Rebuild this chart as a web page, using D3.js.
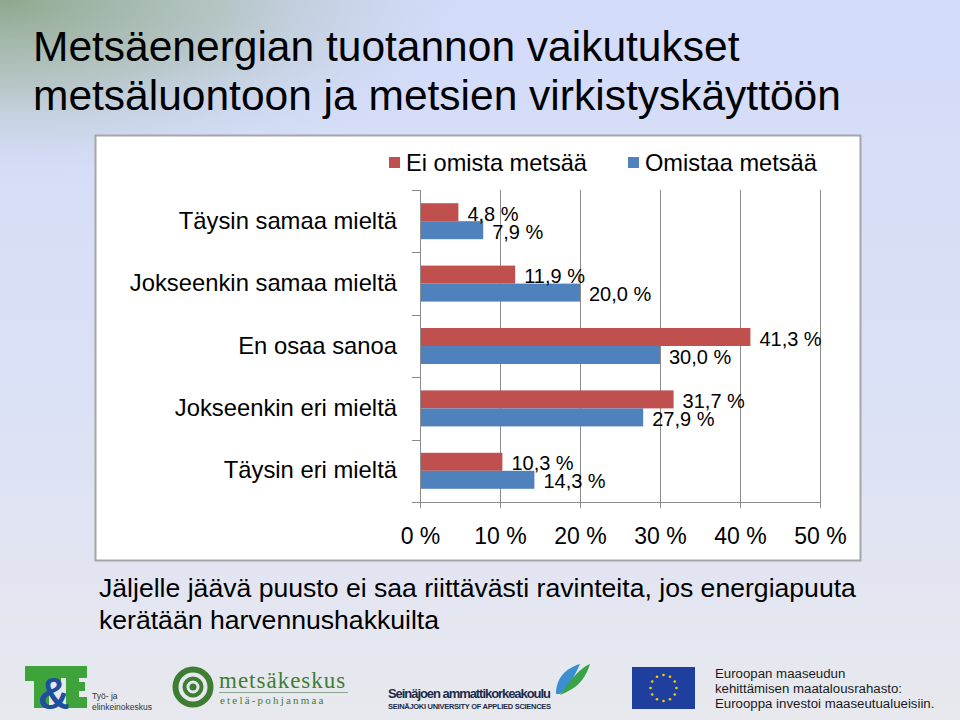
<!DOCTYPE html>
<html><head><meta charset="utf-8">
<script src="https://cdn.jsdelivr.net/npm/d3@7"></script>
<style>html,body{margin:0;padding:0;overflow:hidden;}svg{display:block;font-family:"Liberation Sans",Arial,sans-serif;}</style>
</head><body>
<script>
const categories = ["Täysin samaa mieltä","Jokseenkin samaa mieltä","En osaa sanoa","Jokseenkin eri mieltä","Täysin eri mieltä"];
const seriesNames = ["Ei omista metsää","Omistaa metsää"];
const eiOmista = [4.8, 11.9, 41.3, 31.7, 10.3];
const omistaa = [7.9, 20.0, 30.0, 27.9, 14.3];
const xTicks = [0,10,20,30,40,50];
const titleLines = ["Metsäenergian tuotannon vaikutukset","metsäluontoon ja metsien virkistyskäyttöön"];
const subtitleLines = ["Jäljelle jäävä puusto ei saa riittävästi ravinteita, jos energiapuuta","kerätään harvennushakkuilta"];
const colors = ["#c0504d","#4f81bd"];

const W=960,H=720;
const svg=d3.select("body").append("svg").attr("width",W).attr("height",H);
const defs=svg.append("defs");
const lg=defs.append("linearGradient").attr("id","bg").attr("x1",0).attr("y1",0).attr("x2",0).attr("y2",1);
lg.append("stop").attr("offset","0").attr("stop-color","#d2dbf9");
lg.append("stop").attr("offset","0.55").attr("stop-color","#dbe1f5");
lg.append("stop").attr("offset","1").attr("stop-color","#e8e9ee");
const rg=defs.append("radialGradient").attr("id","gr").attr("gradientUnits","userSpaceOnUse")
  .attr("cx",0).attr("cy",0).attr("r",420).attr("gradientTransform","scale(1.2,0.45)");
rg.append("stop").attr("offset","0").attr("stop-color","#8fa78c").attr("stop-opacity",1);
rg.append("stop").attr("offset","0.45").attr("stop-color","#a9bcb0").attr("stop-opacity",0.7);
rg.append("stop").attr("offset","1").attr("stop-color","#d2dbf9").attr("stop-opacity",0);
svg.append("rect").attr("width",W).attr("height",H).attr("fill","url(#bg)");
svg.append("rect").attr("width",W).attr("height",H).attr("fill","url(#gr)");

// Title
svg.append("g").selectAll("text").data(titleLines).join("text")
  .attr("x",33).attr("y",(d,i)=>61+i*49).attr("font-size",42.5).attr("fill","#000").text(d=>d);

// Chart box
svg.append("rect").attr("x",95.5).attr("y",135.5).attr("width",765).attr("height",425)
  .attr("fill","#fff").attr("stroke","#a6a6a6").attr("stroke-width",2);

const x=d3.scaleLinear().domain([0,50]).range([420,820]);
const y=d3.scaleBand().domain(categories).range([190,502]);
const inner=d3.scaleBand().domain(seriesNames).range([0,36]);
const off=(y.bandwidth()-36)/2;

const g=svg.append("g");
// gridlines
g.selectAll(".grid").data(xTicks.slice(1)).join("line")
  .attr("x1",d=>x(d)).attr("x2",d=>x(d)).attr("y1",190).attr("y2",502)
  .attr("stroke","#8c8c8c").attr("stroke-width",1).attr("shape-rendering","crispEdges");

// bars
const data=categories.map((c,i)=>[{c,s:seriesNames[0],v:eiOmista[i]},{c,s:seriesNames[1],v:omistaa[i]}]).flat();
g.selectAll(".bar").data(data).join("rect")
  .attr("x",x(0)).attr("y",d=>y(d.c)+off+inner(d.s)).attr("width",d=>x(d.v)-x(0)).attr("height",inner.bandwidth())
  .attr("fill",d=>colors[seriesNames.indexOf(d.s)]);
// labels
const fmt=v=>v.toFixed(1).replace(".",",")+" %";
g.selectAll(".lbl").data(data).join("text")
  .attr("x",d=>x(d.v)+9).attr("y",d=>y(d.c)+off+inner(d.s)+inner.bandwidth()/2+1.5)
  .attr("dominant-baseline","central").attr("font-size",20).attr("fill","#000").text(d=>fmt(d.v));

// category axis
const yAxis=d3.axisLeft(y).tickSize(0).tickPadding(23).tickFormat(d=>d);
const ya=svg.append("g").attr("transform","translate(420,0)").call(yAxis);
ya.select(".domain").attr("stroke","#8c8c8c").attr("d","M0.5,190V502");
ya.selectAll("text").attr("font-size",23.8).attr("fill","#000").attr("font-family","Liberation Sans, Arial, sans-serif");
// category tick marks at band boundaries
const bounds=categories.map(c=>y(c)).concat([502]);
svg.append("g").selectAll("line").data(bounds).join("line")
  .attr("x1",412).attr("x2",420).attr("y1",d=>Math.round(d)+0.5).attr("y2",d=>Math.round(d)+0.5)
  .attr("stroke","#8c8c8c");

// value axis
const xAxis=d3.axisBottom(x).tickValues(xTicks).tickSize(6).tickPadding(20).tickFormat(d=>d+" %");
const xa=svg.append("g").attr("transform","translate(0,502)").call(xAxis);
xa.select(".domain").attr("stroke","#8c8c8c").attr("d","M412,0.5H820");
xa.selectAll(".tick line").attr("stroke","#8c8c8c");
xa.selectAll("text").attr("font-size",23).attr("fill","#000").attr("font-family","Liberation Sans, Arial, sans-serif");

// legend
const legX=[389,628];
const leg=svg.append("g").selectAll("g").data(seriesNames).join("g").attr("transform",(d,i)=>`translate(${legX[i]},157)`);
leg.append("rect").attr("width",11).attr("height",11).attr("fill",(d,i)=>colors[i]);
leg.append("text").attr("x",17).attr("y",6).attr("dominant-baseline","central").attr("font-size",23.6).attr("fill","#000").text(d=>d);

// subtitle
svg.append("g").selectAll("text").data(subtitleLines).join("text")
  .attr("x",99).attr("y",(d,i)=>597+i*32).attr("font-size",26.6).attr("fill","#000").text(d=>d);

// ---- logos ----
const lo=svg.append("g");
// T&E
const teG="#3ea33a";
lo.append("rect").attr("x",25).attr("y",666).attr("width",36).attr("height",15).attr("fill",teG);
lo.append("rect").attr("x",34).attr("y",666).attr("width",15).attr("height",42).attr("fill",teG);
lo.append("rect").attr("x",60).attr("y",666).attr("width",27).attr("height",12).attr("fill",teG);
lo.append("rect").attr("x",66).attr("y",666).attr("width",13).attr("height",42).attr("fill",teG);
lo.append("rect").attr("x",66).attr("y",682).attr("width",19).attr("height",9).attr("fill",teG);
lo.append("rect").attr("x",66).attr("y",697).attr("width",21).attr("height",11).attr("fill",teG);
lo.append("text").attr("x",38).attr("y",709).attr("font-size",44).attr("font-weight","bold").attr("fill","#1f4e9c").text("&");
lo.append("text").attr("x",92).attr("y",699).attr("font-size",8.5).attr("fill","#333").text("Työ- ja");
lo.append("text").attr("x",92).attr("y",710).attr("font-size",8.5).attr("fill","#333").text("elinkeinokeskus");
// metsäkeskus
const mg="#3f7d32";
lo.append("circle").attr("cx",193).attr("cy",687).attr("r",17.5).attr("fill","none").attr("stroke",mg).attr("stroke-width",6);
lo.append("circle").attr("cx",193).attr("cy",687).attr("r",8.5).attr("fill","none").attr("stroke",mg).attr("stroke-width",4);
lo.append("circle").attr("cx",193).attr("cy",687).attr("r",3.5).attr("fill",mg);
lo.append("text").attr("x",219).attr("y",688).attr("font-size",23).attr("font-family","Liberation Serif, serif").attr("letter-spacing",1).attr("fill",mg).text("metsäkeskus");
lo.append("line").attr("x1",219).attr("x2",348).attr("y1",692.5).attr("y2",692.5).attr("stroke","#8aa58a");
lo.append("text").attr("x",220).attr("y",704).attr("font-size",11).attr("font-family","Liberation Serif, serif").attr("letter-spacing",2.2).attr("fill",mg).text("etelä-pohjanmaa");
// SeAMK
lo.append("text").attr("x",388).attr("y",698).attr("font-size",13).attr("font-weight","bold").attr("fill","#1c2b4a").attr("textLength",163).text("Seinäjoen ammattikorkeakoulu");
lo.append("text").attr("x",388).attr("y",709).attr("font-size",7.5).attr("font-weight","bold").attr("fill","#1c2b4a").attr("textLength",163).text("SEINÄJOKI UNIVERSITY OF APPLIED SCIENCES");
lo.append("path").attr("d","M556,694 C556,678 566,668 580,664 C576,672 572,684 560,694 Z").attr("fill","#3b8fd0");
lo.append("path").attr("d","M560,695 C572,690 584,684 590,664 C580,668 570,680 560,695 Z").attr("fill","#3aa34a");
// EU flag
lo.append("rect").attr("x",632).attr("y",667).attr("width",63).attr("height",42).attr("fill","#1f3f9f");
lo.append("g").selectAll("circle").data(d3.range(12)).join("circle")
  .attr("cx",d=>663.5+13*Math.cos(d*Math.PI/6)).attr("cy",d=>688+13*Math.sin(d*Math.PI/6)).attr("r",1.3).attr("fill","#f5d000");
const euLines=["Euroopan maaseudun","kehittämisen maatalousrahasto:","Eurooppa investoi maaseutualueisiin."];
lo.append("g").attr("transform","translate(715,0) scale(1.06,1)").selectAll("text").data(euLines).join("text")
  .attr("x",0).attr("y",(d,i)=>678.5+i*14.6).attr("font-size",12.5).attr("fill","#1a1a1a").text(d=>d);
</script>
</body></html>
